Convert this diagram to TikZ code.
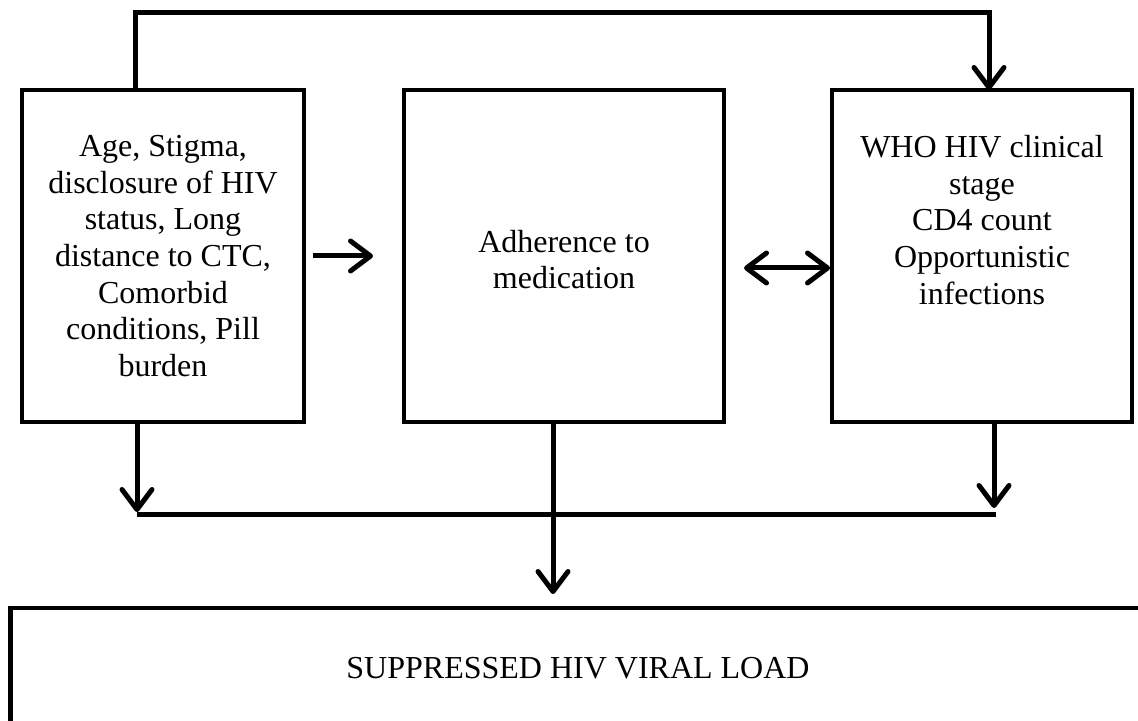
\documentclass[tikz,border=0pt]{standalone}
\usepackage{fontspec}
\setmainfont{Liberation Serif}
\usetikzlibrary{arrows.meta}

\begin{document}
\begin{tikzpicture}[x=0.5pt, y=-0.5pt,
	boxtext/.style = {align=center, font=\fontsize{16pt}{18.35pt}\selectfont},
	factor/.style = {boxtext, draw, rectangle, line width=2.2pt, inner sep=0pt, outer sep=0pt, minimum height=166pt},
	link/.style = {line width=2.5pt},
	>={Straight Barb[length=10pt, width=15pt, round]}]

	\useasboundingbox (0,0) rectangle (1138,721);

	\node[factor, minimum width=141pt] (factors) at (163,256) {Age, Stigma,\\ disclosure of HIV\\ status, Long\\ distance to CTC,\\ Comorbid\\ conditions, Pill\\ burden};
	\node[factor, minimum width=160pt] (adherence) at (564,256) {};
	\node[boxtext] (adherencetext) at (564,259.5) {Adherence to\\ medication};
	\node[factor, minimum width=150pt] (clinical) at (982,256) {};
	\node[boxtext] (clinicaltext) at (982,220) {WHO HIV clinical\\ stage\\ CD4 count\\ Opportunistic\\ infections};
	\node[factor, minimum width=567.5pt, minimum height=60pt] (outcome) at (578,668) {SUPPRESSED HIV VIRAL LOAD};

	\coordinate (busleft) at (137,514);
	\coordinate (busright) at (996,514);

	\draw[link, ->] ([xshift=-14pt]factors.north) -- ++(0,-77.5) -| ([xshift=3.5pt]clinical.north);
	\draw[link, ->] ([xshift=4.5pt]factors.east) -- ([xshift=-15.5pt]adherence.west);
	\draw[link, <->] ([xshift=10pt, yshift=-6pt]adherence.east) -- ([xshift=-1pt, yshift=-6pt]clinical.west);
	\draw[link] (busleft) -- (busright);
	\draw[link, ->, shorten >=1pt] (factors.south -| busleft) -- (busleft);
	\draw[link, ->, shorten >=3pt] ([xshift=6pt]clinical.south) -- ([xshift=6pt]clinical.south |- busright);
	\draw[link, ->, shorten >=7pt] ([xshift=-5.5pt]adherence.south) -- ([xshift=-5.5pt]adherence.south |- outcome.north);
\end{tikzpicture}
\end{document}
